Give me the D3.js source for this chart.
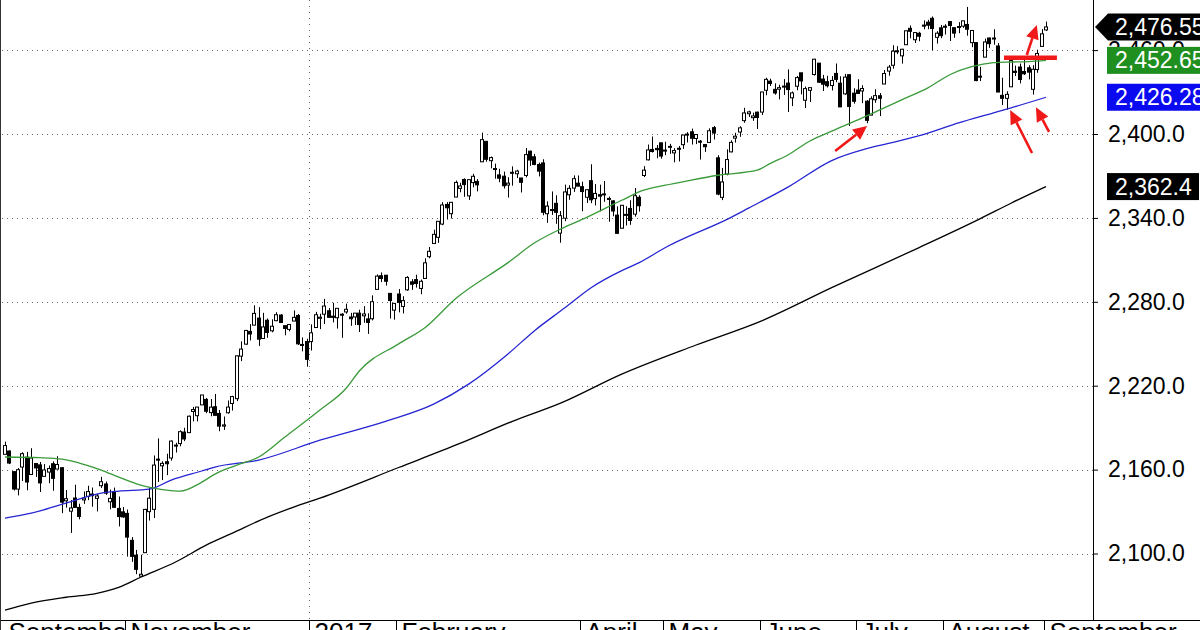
<!DOCTYPE html>
<html><head><meta charset="utf-8">
<script src="https://cdn.jsdelivr.net/npm/d3@7"></script>
<style>html,body{margin:0;padding:0;background:#fff;overflow:hidden}svg{display:block;font-family:"Liberation Sans",Arial,sans-serif}</style>
</head><body><svg id="c" width="1200" height="630"></svg>
<script>
// Trading days per month (day numbers)
const tradingDays = [
  ["2016-09",[22,23,26,27,28,29,30]],
  ["2016-10",[3,4,5,6,7,10,11,12,13,14,17,18,19,20,21,24,25,26,27,28,31]],
  ["2016-11",[1,2,3,4,7,8,9,10,11,14,15,16,17,18,21,22,23,25,28,29,30]],
  ["2016-12",[1,2,5,6,7,8,9,12,13,14,15,16,19,20,21,22,23,27,28,29,30]],
  ["2017-01",[3,4,5,6,9,10,11,12,13,17,18,19,20,23,24,25,26,27,30,31]],
  ["2017-02",[1,2,3,6,7,8,9,10,13,14,15,16,17,21,22,23,24,27,28]],
  ["2017-03",[1,2,3,6,7,8,9,10,13,14,15,16,17,20,21,22,23,24,27,28,29,30,31]],
  ["2017-04",[3,4,5,6,7,10,11,12,13,17,18,19,20,21,24,25,26,27,28]],
  ["2017-05",[1,2,3,4,5,8,9,10,11,12,15,16,17,18,19,22,23,24,25,26,30,31]],
  ["2017-06",[1,2,5,6,7,8,9,12,13,14,15,16,19,20,21,22,23,26,27,28,29,30]],
  ["2017-07",[3,5,6,7,10,11,12,13,14,17,18,19,20,21,24,25,26,27,28,31]],
  ["2017-08",[1,2,3,4,7,8,9,10,11,14,15,16,17,18,21,22,23,24,25,28,29,30,31]],
  ["2017-09",[1]]
];
const opens = [
 2170.94,2173.29,2158.54,2146.04,2161.85,2168.90,2156.51,
 2164.33,2163.37,2155.15,2158.22,2164.19,2160.39,2161.35,2137.67,2130.26,2139.68,2132.95,2138.31,2140.81,2142.51,2139.43,2148.50,2149.72,2136.97,2144.06,2132.23,2129.78,
 2128.68,2109.43,2098.80,2083.79,2100.59,2129.92,2131.56,2167.49,2162.71,2165.64,2168.29,2177.53,2178.61,2186.85,2186.43,2201.56,2198.55,2206.27,2210.21,2200.76,2204.97,
 2200.17,2191.12,2200.65,2207.26,2210.72,2241.13,2249.73,2258.83,2263.32,2268.35,2253.77,2266.81,2259.24,2266.50,2270.54,2262.93,2260.25,2266.23,2270.23,2249.50,2251.61,
 2251.57,2261.60,2268.18,2271.14,2273.59,2269.72,2268.60,2271.14,2272.74,2269.14,2269.14,2271.90,2269.96,2267.78,2267.88,2288.88,2298.63,2299.02,2286.01,2274.02,
 2285.59,2276.69,2288.54,2294.28,2295.87,2289.55,2296.70,2312.27,2321.72,2326.12,2335.58,2349.64,2343.01,2354.91,2361.11,2367.50,2355.73,2365.23,2366.08,
 2380.13,2394.75,2380.92,2375.23,2370.74,2369.81,2363.49,2372.52,2371.56,2368.55,2370.34,2387.71,2383.71,2378.24,2379.32,2343.00,2345.97,2350.42,2329.11,2339.79,2356.54,2361.31,2364.82,
 2362.34,2354.76,2366.59,2353.79,2356.59,2357.16,2353.92,2352.15,2341.98,2332.62,2342.53,2346.79,2342.69,2354.74,2370.33,2381.51,2388.98,2389.70,2393.68,
 2388.50,2391.05,2386.50,2389.79,2392.37,2399.94,2401.58,2396.79,2394.84,2392.44,2393.98,2404.55,2382.95,2354.69,2371.37,2387.21,2397.04,2401.41,2409.54,2414.50,2411.67,2415.63,
 2415.65,2431.28,2437.83,2431.92,2432.03,2434.27,2436.39,2425.88,2434.15,2443.75,2424.14,2431.24,2442.55,2450.66,2439.31,2437.40,2434.65,2443.32,2436.34,2428.70,2442.38,2429.20,
 2431.39,2430.78,2423.44,2413.52,2424.51,2427.35,2435.75,2444.99,2449.16,2459.50,2455.88,2463.85,2475.56,2467.40,2472.04,2477.88,2479.97,2482.76,2469.12,2475.94,
 2477.10,2480.38,2476.03,2476.88,2477.14,2478.35,2465.35,2465.38,2441.04,2454.96,2468.66,2468.63,2462.95,2427.64,2425.50,2433.75,2444.88,2447.91,2444.72,2447.35,2431.94,2446.06,2462.65,
 2474.42
];
const highs = [
 2179.99,2173.75,2158.54,2161.13,2172.40,2172.67,2175.30,
 2164.41,2165.46,2163.95,2162.93,2165.86,2169.60,2161.56,2145.36,2138.19,2149.19,2135.61,2144.38,2148.44,2147.18,2142.63,2154.79,2151.44,2145.73,2147.13,2140.72,2133.25,
 2131.45,2111.76,2102.56,2099.07,2132.00,2146.87,2170.10,2182.30,2165.92,2171.36,2180.84,2179.22,2188.06,2189.89,2198.70,2204.80,2204.72,2213.35,2211.14,2210.46,2214.10,
 2202.60,2197.95,2209.42,2212.78,2241.63,2251.69,2259.80,2264.03,2277.53,2276.20,2272.12,2268.05,2267.47,2272.56,2271.23,2263.18,2263.79,2273.82,2271.31,2254.51,2253.58,
 2263.88,2272.82,2271.50,2282.10,2275.49,2279.27,2275.32,2271.78,2278.68,2272.08,2272.01,2274.33,2276.96,2271.78,2284.63,2299.55,2300.99,2299.02,2286.01,2279.09,
 2289.14,2283.97,2298.31,2296.18,2299.40,2295.91,2311.08,2319.23,2331.58,2337.58,2351.30,2351.31,2351.16,2366.71,2365.13,2368.26,2367.34,2371.54,2367.79,
 2400.98,2394.75,2383.89,2378.80,2375.12,2373.09,2369.08,2376.86,2374.42,2368.55,2390.01,2388.10,2385.71,2379.55,2381.93,2351.81,2358.92,2356.22,2344.90,2363.78,2363.36,2370.42,2370.35,
 2365.87,2360.53,2378.36,2364.16,2363.76,2366.37,2355.22,2352.72,2348.26,2349.14,2348.35,2352.63,2361.37,2356.18,2376.98,2392.48,2398.16,2392.10,2393.68,
 2394.49,2392.93,2389.82,2391.43,2399.29,2401.36,2403.87,2399.74,2395.72,2392.44,2404.05,2405.77,2384.87,2375.74,2389.06,2395.46,2400.85,2405.58,2418.71,2416.68,2415.26,2415.99,
 2430.06,2440.23,2439.55,2436.21,2435.28,2439.27,2446.20,2430.38,2441.49,2443.75,2433.95,2433.15,2453.82,2450.66,2442.23,2441.62,2441.40,2450.42,2441.25,2442.97,2442.73,2432.71,
 2439.17,2434.90,2424.28,2426.92,2432.00,2429.30,2445.76,2449.32,2463.54,2462.82,2460.92,2473.83,2477.62,2472.54,2473.10,2481.24,2481.69,2484.04,2473.53,2477.96,
 2478.51,2480.38,2476.03,2480.00,2480.95,2490.87,2474.41,2465.38,2448.09,2468.22,2468.90,2474.93,2465.02,2440.27,2430.58,2454.77,2448.91,2450.39,2453.96,2449.12,2449.19,2460.31,2475.01,
 2480.38
];
const lows = [
 2170.94,2163.97,2145.04,2141.55,2151.79,2145.20,2156.51,
 2154.77,2144.01,2155.15,2150.28,2144.85,2160.39,2128.84,2132.77,2114.72,2132.98,2124.43,2135.49,2138.15,2133.44,2130.09,2146.91,2141.93,2131.59,2132.52,2119.36,2125.53,
 2097.85,2094.00,2085.23,2083.79,2100.59,2123.56,2125.35,2151.17,2152.49,2156.08,2166.38,2172.20,2176.65,2180.38,2186.43,2194.51,2194.51,2206.27,2200.36,2198.15,2198.81,
 2187.44,2188.37,2199.97,2202.21,2208.93,2237.57,2249.23,2252.37,2263.32,2248.44,2253.77,2254.24,2258.21,2266.14,2265.15,2256.08,2258.84,2266.15,2249.11,2244.56,2233.62,
 2245.13,2261.60,2260.45,2264.06,2268.90,2265.27,2260.83,2254.25,2271.51,2262.81,2263.35,2258.41,2265.01,2257.02,2266.68,2288.88,2294.08,2291.62,2268.04,2267.21,
 2272.44,2271.65,2287.88,2288.57,2290.16,2285.38,2296.61,2311.10,2321.42,2322.17,2334.81,2338.87,2339.58,2354.91,2358.34,2355.09,2352.87,2361.87,2358.96,
 2380.13,2380.17,2375.39,2367.98,2365.51,2361.01,2354.54,2363.04,2368.52,2358.18,2368.94,2377.18,2377.64,2369.66,2341.90,2336.45,2342.13,2335.74,2322.25,2337.63,2352.94,2358.58,2362.60,
 2344.73,2350.72,2350.52,2348.90,2344.65,2351.50,2337.25,2341.18,2328.95,2332.51,2334.54,2335.05,2340.91,2344.51,2369.19,2381.15,2386.78,2382.68,2382.36,
 2384.83,2385.82,2379.75,2380.35,2389.38,2393.92,2392.44,2392.79,2381.74,2387.19,2393.94,2396.05,2356.21,2352.72,2370.43,2386.92,2393.88,2397.99,2408.01,2412.20,2409.43,2403.59,
 2413.54,2427.71,2434.32,2428.12,2424.75,2427.94,2415.70,2419.97,2431.28,2428.34,2418.53,2422.88,2441.79,2436.60,2430.74,2433.27,2431.11,2437.03,2419.38,2428.02,2405.70,2421.65,
 2428.69,2422.05,2407.70,2413.52,2422.27,2412.79,2435.75,2441.69,2446.69,2457.16,2450.34,2463.85,2468.43,2465.06,2466.32,2474.91,2474.94,2459.93,2464.66,2468.53,
 2471.14,2466.48,2468.85,2472.08,2475.88,2470.32,2462.08,2437.75,2437.85,2454.96,2461.61,2463.86,2430.01,2420.69,2417.35,2433.67,2441.42,2436.19,2442.22,2439.03,2428.20,2443.77,2462.65,
 2473.85
];
const closes = [
 2177.18,2164.69,2146.10,2159.93,2171.37,2151.13,2168.27,
 2161.20,2150.49,2159.73,2160.77,2153.74,2163.66,2136.73,2139.18,2132.55,2132.98,2126.50,2139.60,2144.29,2141.34,2141.16,2151.33,2143.16,2139.43,2133.04,2126.41,2126.15,
 2111.72,2097.94,2088.66,2085.18,2131.52,2139.56,2163.26,2167.48,2164.45,2164.20,2180.39,2176.94,2187.12,2181.90,2198.18,2202.94,2204.72,2213.35,2201.72,2204.66,2198.81,
 2191.08,2191.95,2204.71,2212.23,2241.35,2246.19,2259.53,2256.96,2271.72,2253.28,2262.03,2258.07,2262.53,2270.76,2265.18,2260.96,2263.79,2268.88,2249.92,2249.26,2238.83,
 2257.83,2270.75,2269.00,2276.98,2268.90,2268.90,2275.32,2270.44,2274.64,2267.89,2271.89,2263.69,2271.31,2265.20,2280.07,2298.37,2296.68,2294.69,2280.90,2278.87,
 2279.55,2280.85,2297.42,2292.56,2293.08,2294.67,2307.87,2316.10,2328.25,2337.58,2349.25,2347.22,2351.16,2365.38,2362.82,2363.81,2367.34,2369.75,2363.64,
 2395.96,2381.92,2383.12,2375.31,2368.39,2362.98,2364.87,2372.60,2373.47,2365.45,2385.26,2381.38,2378.25,2373.47,2344.02,2348.45,2345.96,2343.98,2341.59,2358.57,2361.13,2368.06,2362.72,
 2358.84,2360.16,2352.95,2357.49,2355.54,2357.16,2353.78,2344.93,2328.95,2349.01,2342.19,2338.17,2355.84,2348.69,2374.15,2388.61,2387.45,2388.77,2384.20,
 2388.33,2391.17,2388.13,2389.52,2399.29,2399.38,2396.92,2399.63,2394.44,2390.90,2402.32,2400.67,2357.03,2365.72,2381.73,2394.02,2398.42,2404.39,2415.07,2415.82,2412.91,2411.80,
 2430.06,2439.07,2436.10,2429.33,2433.14,2433.79,2431.77,2429.39,2440.35,2437.92,2432.46,2433.15,2453.46,2437.03,2435.61,2434.50,2438.30,2439.07,2419.38,2440.69,2419.70,2423.41,
 2429.01,2432.54,2409.75,2425.18,2427.43,2425.53,2443.25,2447.83,2459.27,2459.14,2460.61,2473.83,2473.45,2472.54,2469.91,2477.13,2477.83,2475.42,2472.10,2470.30,
 2476.35,2477.57,2472.16,2476.83,2480.91,2474.92,2474.02,2438.21,2441.32,2465.84,2464.61,2468.11,2430.01,2425.55,2428.37,2452.51,2444.04,2438.97,2443.05,2444.24,2446.30,2457.59,2471.65,
 2476.55
];
// Moving averages: [trading-day index, value]
const ma50 = [[0,2169],[8,2168.5],[13,2167.5],[17,2164.7],[22,2159.7],[26,2154.6],[31,2148.9],[34,2146.8],[37,2145.3],[40,2144.6],[45,2151],[48,2156.8],[53,2163.2],[58,2169],[64,2183.3],[72,2202.6],[78,2218.2],[81,2230.5],[90,2249.9],[96,2261.4],[103,2282.2],[115,2308],[121,2322],[127,2332],[133,2340.4],[141,2352.6],[146,2359.8],[151,2363.4],[156,2366.5],[163,2370.5],[172,2374.1],[175,2379],[179,2385],[184,2395],[189,2402],[196,2411.5],[200,2417.2],[205,2424.4],[211,2433],[216,2442.4],[221,2448.1],[226,2451],[230,2451.5],[234,2451.8],[238,2452.65]];
const ma100 = [[0,2125.3],[6,2128.9],[14,2136],[22,2143.2],[26,2144.6],[33,2146],[38,2152.5],[45,2159],[48,2161.8],[58,2166.8],[72,2181],[87,2194.5],[98,2206.8],[106,2221.1],[115,2242.7],[121,2259.2],[128,2275.7],[134,2290.1],[141,2302.3],[145,2308],[151,2318.8],[166,2340.4],[170,2347],[179,2362],[189,2381],[197,2389.5],[203,2394],[211,2400.7],[218,2407.9],[226,2415.1],[230,2418.7],[238,2426.28]];
const ma200 = [[0,2059.5],[6,2064.5],[14,2068.7],[21,2071.5],[26,2075.8],[31,2083],[39,2093.9],[46,2106],[52,2114.6],[60,2126],[66,2133.2],[72,2139.6],[90,2161.5],[104,2178.7],[116,2194.5],[127,2207.5],[141,2228.3],[158,2249.1],[173,2266.4],[189,2290.1],[209,2318.8],[223,2339.5],[230,2350.5],[238,2362.4]];
const priceTicks = [2100,2160,2220,2280,2340,2400,2460];
const monthLabels = ["September","November","2017","February","April","May","June","July","August","September"];
const monthStarts = ["2016-09-22","2016-11-01","2017-01-03","2017-02-01","2017-04-03","2017-05-01","2017-06-01","2017-07-03","2017-08-01","2017-09-01"];
const lastLabels = ["2,476.55","2,452.65","2,426.28","2,362.4"];
const lastValues = [2476.55,2452.65,2426.28,2362.4];
const lastColors = ["#000000","#1f8f1f","#0a0af0","#000000"];
// Red annotation arrows: [fromIndex, fromValue, toIndex, toValue]
const arrows = [[189.8,2387.8,197.1,2405.7],[233.6,2456.5,235.9,2478.0],[234.8,2386.4,229.8,2417.2],[238.7,2401.6,235.7,2419.1]];
const resistance = [228.4,240.5,2454.6];

const dates = [];
tradingDays.forEach(([m,days])=>days.forEach(d=>dates.push(m+"-"+String(d).padStart(2,"0"))));
const data = dates.map((d,i)=>({d,i,o:opens[i],h:highs[i],l:lows[i],c:closes[i]}));

const plotRight = 1093, plotBottom = 620;
const svg = d3.select("#c");
const x = d3.scaleLinear().domain([0, dates.length-1]).range([5, 1046]);
const y = d3.scaleLinear().domain([2100, 2400]).range([553.5, 134]);

svg.append("defs").append("clipPath").attr("id","plot")
  .append("rect").attr("x",0).attr("y",0).attr("width",plotRight).attr("height",plotBottom);

// grid
const grid = svg.append("g");
grid.selectAll("line.h").data(priceTicks).join("line").attr("class","h")
  .attr("x1",2).attr("x2",plotRight).attr("y1",d=>Math.round(y(d))+0.5).attr("y2",d=>Math.round(y(d))+0.5)
  .attr("stroke","#666").attr("stroke-dasharray","1,4");
const yearIdx = dates.indexOf("2017-01-03");
grid.append("line").attr("x1",Math.round(x(yearIdx-0.5))+0.5).attr("x2",Math.round(x(yearIdx-0.5))+0.5)
  .attr("y1",0).attr("y2",plotBottom).attr("stroke","#666").attr("stroke-dasharray","1,5");

const plot = svg.append("g").attr("clip-path","url(#plot)");

// candles
const cg = plot.append("g");
const cand = cg.selectAll("g").data(data).join("g");
const cx = d=>Math.round(x(d.i))+0.5;
cand.append("line").attr("x1",cx).attr("x2",cx).attr("y1",d=>y(d.h)).attr("y2",d=>y(d.l))
  .attr("stroke","#000").attr("stroke-width",1);
cand.append("rect")
  .attr("x",d=>cx(d)-2)
  .attr("width",3)
  .attr("y",d=>y(Math.max(d.o,d.c)))
  .attr("height",d=>Math.max(1,Math.abs(y(d.o)-y(d.c))))
  .attr("fill",d=>d.c>=d.o?"#fff":"#000").attr("stroke","#000").attr("stroke-width",1);

// moving averages
const line = d3.line().x(d=>x(d[0])).y(d=>y(d[1])).curve(d3.curveMonotoneX);
plot.append("path").datum(ma200).attr("d",line).attr("fill","none").attr("stroke","#000").attr("stroke-width",1.3);
plot.append("path").datum(ma100).attr("d",line).attr("fill","none").attr("stroke","#2525d2").attr("stroke-width",1.3);
plot.append("path").datum(ma50).attr("d",line).attr("fill","none").attr("stroke","#3a9a3a").attr("stroke-width",1.3);

// red annotations
const red = "#f01818";
const ag = svg.append("g");
ag.append("line").attr("x1",x(resistance[0])).attr("x2",x(resistance[1]))
  .attr("y1",y(resistance[2])).attr("y2",y(resistance[2])).attr("stroke",red).attr("stroke-width",4.5);
arrows.forEach(a=>{
  const x1=x(a[0]),y1=y(a[1]),x2=x(a[2]),y2=y(a[3]);
  const ang=Math.atan2(y2-y1,x2-x1), L=14, Wd=6.5;
  const bx=x2-L*Math.cos(ang), by=y2-L*Math.sin(ang);
  ag.append("line").attr("x1",x1).attr("y1",y1).attr("x2",bx).attr("y2",by).attr("stroke",red).attr("stroke-width",2.6);
  const p=[[x2,y2],[bx+Wd*Math.sin(ang),by-Wd*Math.cos(ang)],[bx-Wd*Math.sin(ang),by+Wd*Math.cos(ang)]];
  ag.append("path").attr("d","M"+p.map(q=>q.join(",")).join("L")+"Z").attr("fill",red);
});

// right axis
svg.append("line").attr("x1",plotRight+0.5).attr("x2",plotRight+0.5).attr("y1",0).attr("y2",plotBottom).attr("stroke","#000");
const axis = d3.axisRight(y).tickValues(priceTicks).tickFormat(d3.format(",.1f")).tickSize(5).tickPadding(10);
const ax = svg.append("g").attr("transform",`translate(${plotRight},0)`).call(axis);
ax.select(".domain").remove();
ax.selectAll("text").attr("font-size",23).attr("font-family","Liberation Sans, Arial, sans-serif").attr("fill","#000");
ax.selectAll("line").attr("stroke","#000");

// last value boxes
const bg = svg.append("g");
lastValues.forEach((v,k)=>{
  const cy = y(v);
  const top = cy-13.5, h = 27;
  if(k===0){
    bg.append("path").attr("d",`M${plotRight+2},${cy}L${plotRight+15},${top}L1200,${top}L1200,${top+h}L${plotRight+15},${top+h}Z`).attr("fill",lastColors[k]);
  } else {
    const w = k===3 ? 92 : 100;
    bg.append("rect").attr("x",1107).attr("y",top).attr("width",w).attr("height",h).attr("fill",lastColors[k]);
  }
  bg.append("text").attr("x",1115).attr("y",cy).attr("dy","0.35em").attr("font-size",23)
    .attr("fill","#fff").text(lastLabels[k]);
});

// bottom month row
svg.append("line").attr("x1",0).attr("x2",1200).attr("y1",plotBottom+0.5).attr("y2",plotBottom+0.5).attr("stroke","#000");
svg.append("line").attr("x1",0.5).attr("x2",0.5).attr("y1",0).attr("y2",630).attr("stroke","#333");
const seps = monthStarts.map(s=>Math.round(x(dates.indexOf(s)-0.5))+0.5);
const mg = svg.append("g");
monthLabels.forEach((lab,k)=>{
  const sx = seps[k];
  const nx = k<seps.length-1 ? seps[k+1] : 1200;
  if(k>0) mg.append("line").attr("x1",sx).attr("x2",sx).attr("y1",plotBottom).attr("y2",630).attr("stroke","#000");
  mg.append("clipPath").attr("id","m"+k).append("rect").attr("x",sx).attr("y",plotBottom).attr("width",nx-sx-1).attr("height",20);
  mg.append("text").attr("x",sx+5).attr("y",641).attr("font-size",26).attr("fill","#000")
    .attr("clip-path",`url(#m${k})`).text(lab);
});
</script></body></html>
